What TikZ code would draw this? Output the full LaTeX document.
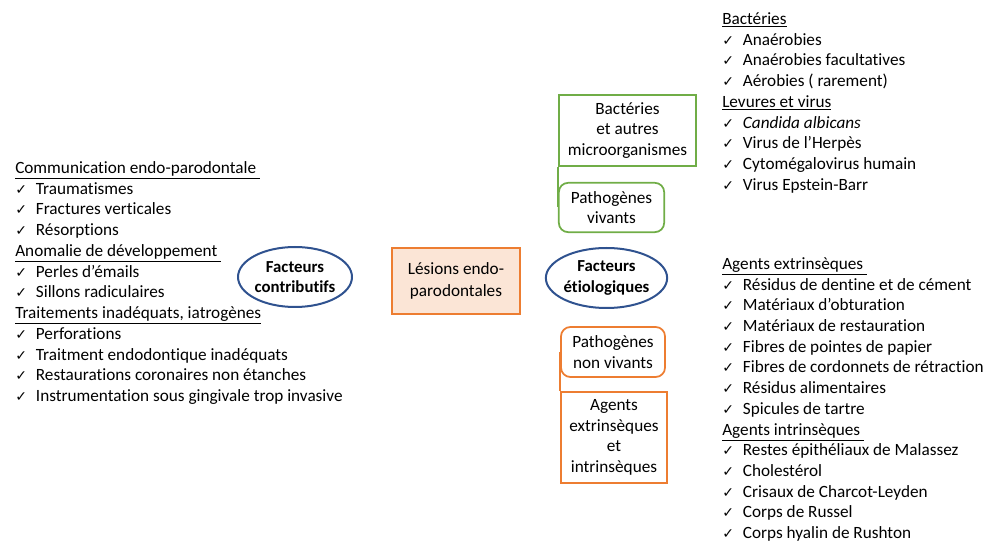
\documentclass[tikz,border=0pt]{standalone}
\usepackage{fontspec}
\setmainfont{Carlito}[Ligatures={NoCommon}]
\newfontfamily\checkfont{DejaVu Sans}
\usetikzlibrary{shapes,positioning}

\definecolor{factorblue}{HTML}{2F528F}
\definecolor{lesorange}{HTML}{ED7D31}
\definecolor{lesfill}{HTML}{FBE5D6}
\definecolor{vivgreen}{HTML}{70AD47}

\newcommand{\hdr}[1]{\underline{#1}}
\newcommand{\chk}[1]{\makebox[15.5pt][l]{\checkfont\fontsize{10.5}{10.5}\selectfont ✓}#1}

\begin{document}
\begin{tikzpicture}[
    x=0.75pt, y=-0.75pt,
    factor/.style={ellipse, draw=factorblue, line width=1.5pt, align=center, inner sep=0pt, font=\fontsize{12.6}{15.5}\selectfont\bfseries},
    lesion/.style={rectangle, draw=lesorange, fill=lesfill, line width=1.5pt, align=center, inner sep=0pt, font=\fontsize{12.9}{16.5}\selectfont},
    vivbox/.style={rectangle, draw=vivgreen, line width=1.3pt, align=center, inner sep=0pt, font=\fontsize{12.9}{15.5}\selectfont},
    nonvivbox/.style={rectangle, draw=lesorange, line width=1.3pt, align=center, inner sep=0pt, font=\fontsize{12.9}{15.5}\selectfont},
    listline/.style={anchor=base west, inner sep=0pt, font=\fontsize{12.9}{15}\selectfont}
]
\useasboundingbox (0,0) rectangle (985,541);

% Central row
\node[factor, minimum width=75pt, minimum height=45pt] (contrib) at (295,277) {Facteurs\\contributifs};
\node[lesion, minimum width=96pt, minimum height=49.5pt] (lesions) at (456,281) {Lésions endo-\\parodontales};
\node[factor, minimum width=89pt, minimum height=45pt] (etio) at (606.5,278) {Facteurs\\étiologiques};

% Living pathogens (green)
\node[vivbox, minimum width=103pt, minimum height=53pt] (bacteries) at (627.5,130.5) {Bactéries\\et autres\\microorganismes};
\node[vivbox, rounded corners=7pt, minimum width=79pt, minimum height=37pt] (vivants) at (611.5,207.5) {Pathogènes\\vivants};
\draw[vivgreen, line width=1.3pt] (bacteries.south west) -- (vivants.west);

% Non-living pathogens (orange)
\node[nonvivbox, rounded corners=7pt, minimum width=78pt, minimum height=37.5pt] (nonvivants) at (613,352) {Pathogènes\\non vivants};
\node[nonvivbox, minimum width=79.5pt, minimum height=68pt] (agents) at (614,437.5) {Agents\\extrinsèques\\et\\intrinsèques};
\draw[lesorange, line width=1.3pt] (nonvivants.west) -- (agents.north west);

% Contributing factors list (left)
\foreach \txt [count=\i] in {\hdr{Communication endo-parodontale\ }, \chk{Traumatismes}, \chk{Fractures verticales}, \chk{Résorptions},
    \hdr{Anomalie de développement\ }, \chk{Perles d’émails}, \chk{Sillons radiculaires},
    \hdr{Traitements inadéquats, iatrogènes}, \chk{Perforations}, \chk{Traitment endodontique inadéquats},
    \chk{Restaurations coronaires non étanches}, \chk{Instrumentation sous gingivale trop invasive}} {
    \node[listline] (contrib-\i) at (15,{173.5+20.75*(\i-1)}) {\txt};
}

% Living pathogens list (top right)
\foreach \txt [count=\i] in {\hdr{Bactéries}, \chk{Anaérobies}, \chk{Anaérobies facultatives}, \chk{Aérobies ( rarement)},
    \hdr{Levures et virus}, \chk{\textit{Candida albicans}}, \chk{Virus de l’Herpès},
    \chk{Cytomégalovirus humain}, \chk{Virus Epstein-Barr}} {
    \node[listline] (vivants-\i) at (722,{24.5+20.75*(\i-1)}) {\txt};
}

% Non-living pathogens list (bottom right)
\foreach \txt [count=\i] in {\hdr{Agents extrinsèques\ }, \chk{Résidus de dentine et de cément}, \chk{Matériaux d’obturation},
    \chk{Matériaux de restauration}, \chk{Fibres de pointes de papier}, \chk{Fibres de cordonnets de rétraction},
    \chk{Résidus alimentaires}, \chk{Spicules de tartre}, \hdr{Agents intrinsèques\ },
    \chk{Restes épithéliaux de Malassez}, \chk{Cholestérol}, \chk{Crisaux de Charcot-Leyden},
    \chk{Corps de Russel}, \chk{Corps hyalin de Rushton}} {
    \node[listline] (nonvivants-\i) at (722,{269.5+20.7*(\i-1)}) {\txt};
}

\end{tikzpicture}
\end{document}
